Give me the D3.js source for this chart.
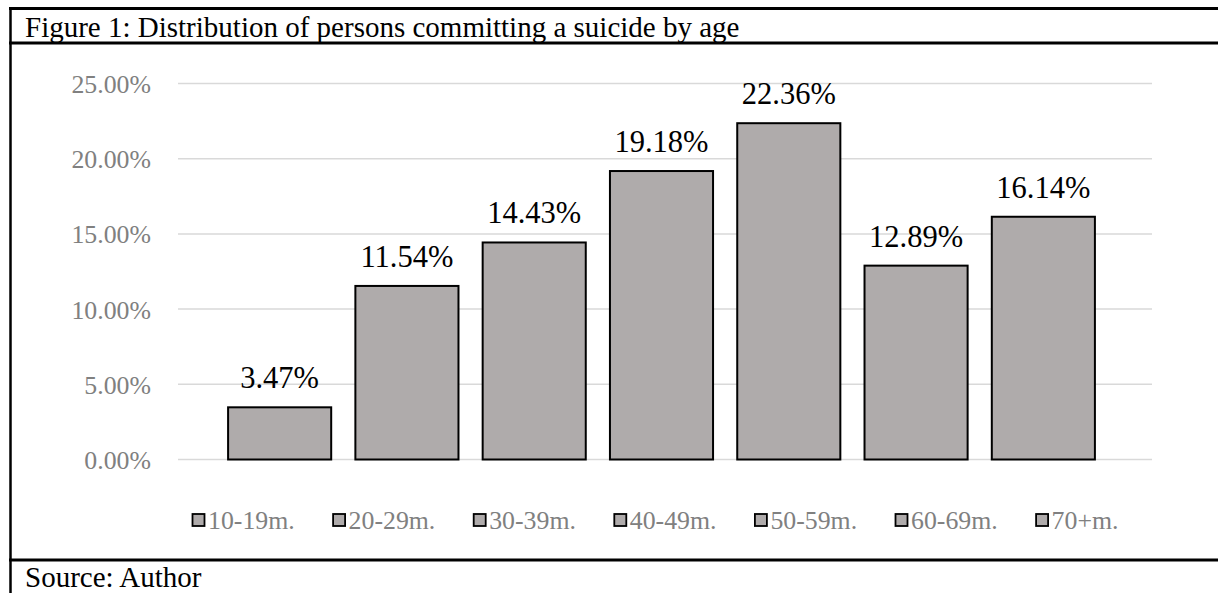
<!DOCTYPE html>
<html>
<head>
<meta charset="utf-8">
<script src="https://cdn.jsdelivr.net/npm/d3@7"></script>
<style>
  html, body { margin: 0; padding: 0; background: #fff; }
  svg { display: block; }
  text { font-family: "Liberation Serif", "Times New Roman", serif; }
</style>
</head>
<body>
<svg id="chart" width="1218" height="593"></svg>
<script>
// Age groups and share of persons committing a suicide (%)
const categories = ["10-19m.", "20-29m.", "30-39m.", "40-49m.", "50-59m.", "60-69m.", "70+m."];
const values = [3.47, 11.54, 14.43, 19.18, 22.36, 12.89, 16.14];
const yTicks = [0, 5, 10, 15, 20, 25];
const titleText = "Figure 1: Distribution of persons committing a suicide by age";
const sourceText = "Source: Author";

const W = 1218, H = 593;
const svg = d3.select("#chart");

// Frame of the figure: top rule, title rule, source rule, left edge
const frame = svg.append("g").attr("stroke", "#000");
frame.append("line").attr("x1", 9).attr("x2", W).attr("y1", 8.5).attr("y2", 8.5).attr("stroke-width", 3);
frame.append("line").attr("x1", 9).attr("x2", W).attr("y1", 43).attr("y2", 43).attr("stroke-width", 3);
frame.append("line").attr("x1", 9).attr("x2", W).attr("y1", 560).attr("y2", 560).attr("stroke-width", 3);
frame.append("line").attr("x1", 10.5).attr("x2", 10.5).attr("y1", 7).attr("y2", H).attr("stroke-width", 2.5);

svg.append("text").attr("x", 25).attr("y", 36.5).attr("font-size", 29).attr("fill", "#000").text(titleText);
svg.append("text").attr("x", 25).attr("y", 587).attr("font-size", 29).attr("fill", "#000").text(sourceText);

// Scales
const y = d3.scaleLinear().domain([0, 25]).range([459.5, 83.5]);
const x = d3.scaleBand().domain(categories).range([216, 1107]).paddingInner(0.19).paddingOuter(0.095);
const gridX0 = 178, gridX1 = 1152;

// Horizontal gridlines
svg.append("g").selectAll("line").data(yTicks).join("line")
  .attr("x1", gridX0).attr("x2", gridX1)
  .attr("y1", d => y(d)).attr("y2", d => y(d))
  .attr("stroke", "#d9d9d9").attr("stroke-width", 1.5);

// Y axis tick labels
const yAxis = d3.axisLeft(y).tickValues(yTicks).tickSize(0).tickPadding(0)
  .tickFormat(d => d.toFixed(2) + "%");
const gy = svg.append("g").attr("transform", "translate(151,0)").call(yAxis);
gy.select(".domain").remove();
gy.selectAll("text").attr("font-family", "Liberation Serif, Times New Roman, serif")
  .attr("font-size", 25.8).attr("fill", "#808080").attr("dy", "0.35em");

// Bars
svg.append("g").selectAll("rect").data(values).join("rect")
  .attr("x", (d, i) => x(categories[i]))
  .attr("y", d => y(d))
  .attr("width", x.bandwidth())
  .attr("height", d => y(0) - y(d))
  .attr("fill", "#afabab").attr("stroke", "#000").attr("stroke-width", 2);

// Value labels
svg.append("g").selectAll("text").data(values).join("text")
  .attr("x", (d, i) => x(categories[i]) + x.bandwidth() / 2)
  .attr("y", d => y(d) - 19)
  .attr("text-anchor", "middle").attr("font-size", 30.5).attr("fill", "#000")
  .text(d => d.toFixed(2) + "%");

// Legend
const legend = svg.append("g").selectAll("g").data(categories).join("g")
  .attr("transform", (d, i) => `translate(${192 + i * 140.6},0)`);
legend.append("rect").attr("x", 0.5).attr("y", 514).attr("width", 12).attr("height", 12)
  .attr("fill", "#afabab").attr("stroke", "#000").attr("stroke-width", 1.8);
legend.append("text").attr("x", 16).attr("y", 528.5).attr("font-size", 25.8).attr("fill", "#808080")
  .text(d => d);
</script>
</body>
</html>
